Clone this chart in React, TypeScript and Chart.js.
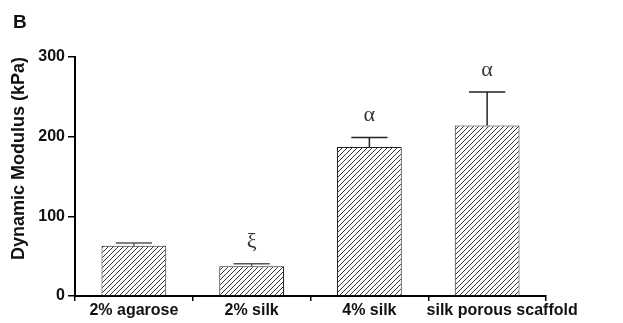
import React, { useEffect, useRef } from "react";
import { Chart, registerables } from "chart.js";

Chart.register(...registerables);

// Groups, mean dynamic modulus (kPa), upper error (SD) and significance marks
const categories = ["2% agarose", "2% silk", "4% silk", "silk porous scaffold"];
const modulus = [63, 37.5, 187, 214];
const errors = [3.5, 3, 12, 42];
const markers = ["", "ξ", "α", "α"];
const yTicks = [0, 100, 200, 300];

const FONT = "'Liberation Sans', Arial, sans-serif";

function makeHatch(): CanvasPattern | string {
  const s = 5;
  const c = document.createElement("canvas");
  c.width = s;
  c.height = s;
  const g = c.getContext("2d");
  if (!g) return "#ccc";
  g.fillStyle = "#ffffff";
  g.fillRect(0, 0, s, s);
  g.strokeStyle = "#333333";
  g.lineWidth = 1;
  g.beginPath();
  g.moveTo(-1, s + 1);
  g.lineTo(s + 1, -1);
  g.moveTo(-1, 1);
  g.lineTo(1, -1);
  g.moveTo(s - 1, s + 1);
  g.lineTo(s + 1, s - 1);
  g.stroke();
  return g.createPattern(c, "repeat") || "#ccc";
}

// Upper error whiskers plus the significance symbols above them
const errorBarPlugin = {
  id: "errorBars",
  afterDatasetsDraw(chart: any) {
    const { ctx } = chart;
    const meta = chart.getDatasetMeta(0);
    const y = chart.scales.y;
    ctx.save();
    meta.data.forEach((bar: any, i: number) => {
      const top = y.getPixelForValue(modulus[i]);
      const end = y.getPixelForValue(modulus[i] + errors[i]);
      const half = bar.width * 0.28;
      ctx.strokeStyle = i < 2 ? "#555" : "#222";
      ctx.lineWidth = 1.5;
      ctx.beginPath();
      ctx.moveTo(bar.x, top);
      ctx.lineTo(bar.x, end);
      ctx.moveTo(bar.x - half, end);
      ctx.lineTo(bar.x + half, end);
      ctx.stroke();
      if (markers[i]) {
        ctx.fillStyle = "#333";
        ctx.font = "22px 'Liberation Serif', 'DejaVu Serif', serif";
        ctx.textAlign = "center";
        ctx.textBaseline = "alphabetic";
        ctx.fillText(markers[i], bar.x, end - 16);
      }
    });
    ctx.restore();
  },
};

// Category names under the x axis; the long last name is nudged right
const categoryLabelPlugin = {
  id: "categoryLabels",
  afterDraw(chart: any) {
    const { ctx } = chart;
    const x = chart.scales.x;
    const base = chart.chartArea.bottom;
    ctx.save();
    ctx.fillStyle = "#111";
    ctx.font = `bold 16px ${FONT}`;
    ctx.textAlign = "center";
    ctx.textBaseline = "top";
    categories.forEach((name, i) => {
      const nudge = i === categories.length - 1 ? 15 : 0;
      ctx.fillText(name, x.getPixelForValue(i) + nudge, base + 7);
    });
    ctx.restore();
  },
};

// Panel letter in the top-left corner
const panelLabelPlugin = {
  id: "panelLabel",
  afterDraw(chart: any) {
    const { ctx } = chart;
    ctx.save();
    ctx.fillStyle = "#111";
    ctx.font = `bold 19px ${FONT}`;
    ctx.textAlign = "left";
    ctx.textBaseline = "alphabetic";
    ctx.fillText("B", 13, 28);
    ctx.restore();
  },
};

export default function App() {
  const ref = useRef<HTMLCanvasElement>(null);

  useEffect(() => {
    if (!ref.current) return;
    const chart = new Chart(ref.current, {
      type: "bar",
      data: {
        labels: categories,
        datasets: [
          {
            data: modulus,
            backgroundColor: makeHatch() as any,
            borderColor: "#222",
            borderWidth: 1,
            categoryPercentage: 1,
            barPercentage: 0.55,
          },
        ],
      },
      options: {
        responsive: false,
        animation: false,
        events: [],
        layout: { padding: { top: 57, right: 77, bottom: 0, left: 0 } },
        plugins: { legend: { display: false }, tooltip: { enabled: false } },
        scales: {
          x: {
            grid: {
              drawOnChartArea: false,
              drawTicks: true,
              tickLength: 5,
              color: "#000",
              lineWidth: 1.5,
            },
            border: { color: "#000", width: 2 },
            ticks: { display: false },
            afterFit(scale: any) {
              scale.height = 27;
            },
          },
          y: {
            min: 0,
            max: 300,
            afterBuildTicks(scale: any) {
              scale.ticks = yTicks.map((v) => ({ value: v }));
            },
            grid: {
              drawOnChartArea: false,
              drawTicks: true,
              tickLength: 7,
              color: "#000",
              lineWidth: 1.5,
            },
            border: { color: "#000", width: 2 },
            ticks: {
              color: "#111",
              padding: 3,
              font: { family: FONT, size: 16, weight: "bold" },
            },
            title: {
              display: true,
              text: "Dynamic Modulus (kPa)",
              align: "end",
              color: "#111",
              padding: { top: 8, bottom: 0 },
              font: { family: FONT, size: 18, weight: "bold" },
            },
            afterFit(scale: any) {
              scale.width = 75;
            },
          },
        },
      },
      plugins: [errorBarPlugin, categoryLabelPlugin, panelLabelPlugin],
    } as any);
    return () => chart.destroy();
  }, []);

  return (
    <div style={{ position: "absolute", left: 0, top: 0, width: 623, height: 323, background: "#fff" }}>
      <canvas ref={ref} width={623} height={323} />
    </div>
  );
}
